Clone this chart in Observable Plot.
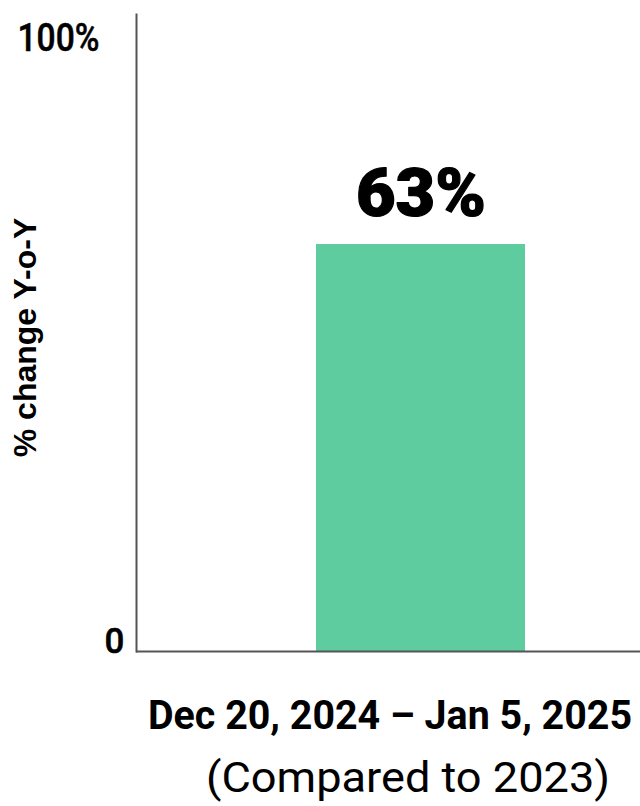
<!DOCTYPE html>
<html><head><meta charset="utf-8">
<script src="https://cdn.jsdelivr.net/npm/d3@7"></script>
<script src="https://cdn.jsdelivr.net/npm/@observablehq/plot@0.6"></script>
<style>body{margin:0;background:#fff}</style>
</head><body><div id="chart"></div>
<script>
const categories = ["Dec 20, 2024 – Jan 5, 2025"];
const values = [63];
const valueLabels = ["63%"];
const subLabels = ["(Compared to 2023)"];
const yTicks = [0, 100];
const yTickLabels = ["0", "100%"];
const yAxisTitle = "% change Y-o-Y";

const data = categories.map((c, i) => ({category: c, value: values[i], label: valueLabels[i], sub: subLabels[i]}));
const ticks = yTicks.map((t, i) => ({value: t, label: yTickLabels[i]}));
const din = "Roboto, 'DejaVu Sans', sans-serif";

const chart = Plot.plot({
  width: 640, height: 806,
  marginTop: 5, marginBottom: 155, marginLeft: 136, marginRight: 0,
  style: {background: "#fff", color: "#000"},
  x: {domain: categories, padding: 0.4118, align: 0.612, axis: null},
  y: {domain: [0, 100], axis: null},
  marks: [
    Plot.barY(data, {x: "category", y: "value", fill: "#5ECC9F"}),
    Plot.frame({anchor: "left", insetTop: 9, stroke: "#555", strokeWidth: 2}),
    Plot.ruleY([0], {stroke: "#555", strokeWidth: 2}),
    Plot.text(data, {x: "category", y: "value", text: "label", lineAnchor: "middle", dy: -50,
      fontFamily: din, fontWeight: 900, fontSize: 66, fill: "#000", stroke: "#000", strokeWidth: 1.2}),
    Plot.text(ticks.filter(d => d.value === 100), {y: "value", text: "label", frameAnchor: "left",
      textAnchor: "end", lineAnchor: "middle", dx: -37, dy: 33, fontFamily: din, fontWeight: 500, fontSize: 38,
      fill: "#000", stroke: "#000", strokeWidth: 0.5}),
    Plot.text(ticks.filter(d => d.value === 0), {y: "value", text: "label", frameAnchor: "left",
      textAnchor: "end", lineAnchor: "middle", dx: -12, dy: -10, fontFamily: din, fontWeight: 500, fontSize: 35,
      fill: "#000", stroke: "#000", strokeWidth: 0.5}),
    Plot.text(data, {x: "category", text: "category", frameAnchor: "bottom", lineAnchor: "middle", dy: 65, dx: -31,
      fontFamily: din, fontWeight: "bold", fontSize: 40, fill: "#000"}),
    Plot.text(data, {x: "category", text: "sub", frameAnchor: "bottom", lineAnchor: "middle", dy: 127, dx: -13,
      fontFamily: din, fontWeight: 400, fontSize: 42, fill: "#000"}),
    Plot.text([yAxisTitle], {text: d => d, frameAnchor: "left", textAnchor: "middle", lineAnchor: "middle",
      rotate: -90, dx: -111, dy: 9,
      fontFamily: "'Liberation Sans', Arial, sans-serif", fontWeight: "bold", fontSize: 32, fill: "#000"})
  ]
});

// squeeze the DIN-like labels to the reference widths
const fitWidths = new Map([
  [categories[0], 484],
  [subLabels[0], 404],
  [valueLabels[0], 130],
  [yTickLabels[1], 82]
]);
d3.select(chart).selectAll("text").each(function () {
  const w = fitWidths.get(this.textContent);
  if (w) d3.select(this).attr("textLength", w).attr("lengthAdjust", "spacingAndGlyphs");
});
document.getElementById("chart").append(chart);
</script>
</body></html>
